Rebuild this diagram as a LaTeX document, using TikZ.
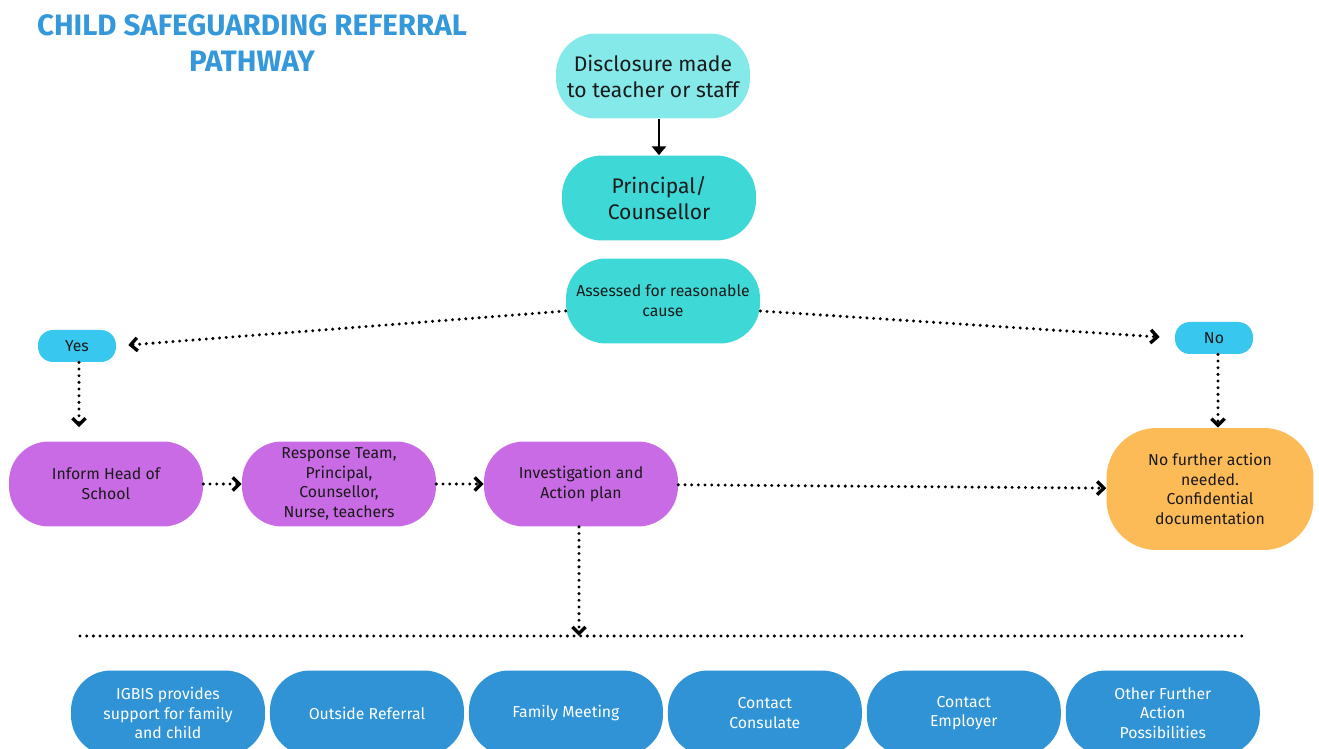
\documentclass[tikz,border=0pt]{standalone}
\usepackage{fontspec}
\setmainfont{Fira Sans}
\usetikzlibrary{arrows.meta}

\definecolor{titleblue}{HTML}{3498DB}
\definecolor{lightteal}{HTML}{84E9E8}
\definecolor{teal}{HTML}{3ED9D6}
\definecolor{sky}{HTML}{38C8EF}
\definecolor{violet}{HTML}{C96BE5}
\definecolor{amber}{HTML}{FDBB57}
\definecolor{steel}{HTML}{2F93D6}
\definecolor{ink}{HTML}{1A1A1A}

\begin{document}
\begin{tikzpicture}[x=0.02cm,y=-0.02cm,
        box/.style={rounded corners=0.8cm,minimum width=3.88cm,minimum height=1.7cm,
            align=center,text=ink,font=\fontsize{9}{11.2}\selectfont},
        big/.style={box,font=\fontsize{12}{14.7}\selectfont},
        tag/.style={box,rounded corners=0.3cm,minimum width=1.56cm,minimum height=0.64cm},
        dots/.style={dash pattern=on 0pt off 3.8pt,line cap=round,line width=1.9pt,
            -{Straight Barb[length=3.8pt,width=7.5pt,line width=1.9pt]}},
        node distance=3.98cm]

  \useasboundingbox (0,0) rectangle (1319,749);
  \clip (0,0) rectangle (1319,749);

  \node[text=titleblue,align=center,font=\bfseries\fontsize{16.8}{21}\selectfont] (title) at (252,43)
    {CHILD SAFEGUARDING REFERRAL\\PATHWAY};

  \node[big,fill=lightteal] (disc) at (653,76) {Disclosure made\\to teacher or staff};
  \node[big,fill=teal] (prin) at (659,198) {Principal/\\Counsellor};
  \node[box,fill=teal] (assess) at (663,301) {Assessed for reasonable\\cause};

  \node[tag,fill=sky] (yes) at (77,346) {Yes};
  \node[tag,fill=sky] (no) at (1214,338) {No};

  \node[box,fill=violet] (inform) at (106,484) {Inform Head of\\School};
  \node[box,fill=violet] (team) at (339,484) {Response Team,\\Principal,\\Counsellor,\\Nurse, teachers};
  \node[box,fill=violet] (invest) at (581,484) {Investigation and\\Action plan};
  \node[box,fill=amber,minimum width=4.14cm,minimum height=2.44cm,rounded corners=1cm]
    (none) at (1210,489) {No further action\\needed.\\Confidential\\documentation};

  % outcomes
  \node[box,fill=steel,text=white] (o1) at (168,713) {IGBIS provides\\support for family\\and child};
  \node[box,fill=steel,text=white] (o2) [right of=o1] {Outside Referral};
  \node[box,fill=steel,text=white] (o3) [right of=o2] {Family Meeting};
  \node[box,fill=steel,text=white] (o4) [right of=o3] {Contact\\Consulate};
  \node[box,fill=steel,text=white] (o5) [right of=o4] {Contact\\Employer};
  \node[box,fill=steel,text=white] (o6) [right of=o5] {Other Further\\Action\\Possibilities};

  \coordinate (barl) at (80,636);
  \coordinate (barr) at (1248,636);
  \coordinate (bar) at (579,636);

  \draw[line width=1.5pt,-{Triangle[length=5pt,width=8pt]}] (disc.south -| prin.north) -- (prin.north);

  \draw[dots,shorten >=0.24cm] ([yshift=-0.2cm]assess.west) -- (yes.east);
  \draw[dots,shorten >=0.3cm] ([yshift=-0.2cm]assess.east) -- (no.west);
  \draw[dots,shorten >=0.28cm] ([xshift=0.04cm]yes.south) -- ([xshift=0.04cm]yes.south |- inform.north);
  \draw[dots] ([xshift=0.08cm]no.south) -- ([xshift=0.08cm]no.south |- none.north);

  \draw[dots] (inform) -- (team);
  \draw[dots] (team) -- (invest);
  \draw[dots] (invest) -- (none);
  \draw[dots] ([xshift=-0.04cm]invest.south) -- (bar);
  \draw[dots,-] (barl) -- (barr);

\end{tikzpicture}
\end{document}
